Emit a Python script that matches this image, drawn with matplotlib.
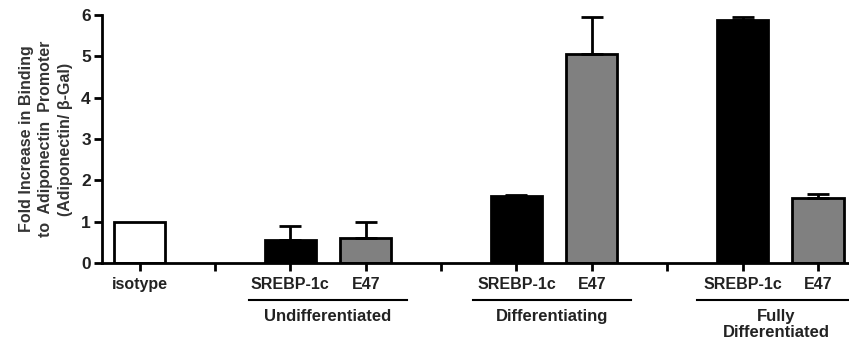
import matplotlib
matplotlib.use("Agg")
import matplotlib.pyplot as plt
from matplotlib.transforms import blended_transform_factory

plt.rcParams['font.family'] = ['Liberation Sans', 'DejaVu Sans']
plt.rcParams['font.weight'] = 'bold'

positions = [0, 1, 2, 3, 4, 5, 6, 7, 8, 9]
tick_labels = ["isotype", "", "SREBP-1c", "E47", "", "SREBP-1c", "E47", "", "SREBP-1c", "E47"]
bar_pos = [0, 2, 3, 5, 6, 8, 9]
values = [1.0, 0.56, 0.6, 1.62, 5.05, 5.88, 1.57]
errors = [0.0, 0.34, 0.4, 0.04, 0.9, 0.08, 0.1]
colors = ["white", "black", "#808080", "black", "#808080", "black", "#808080"]
groups = ["Undifferentiated", "Differentiating", "Fully\nDifferentiated"]
group_spans = [(1.45, 3.55), (4.42, 6.52), (7.39, 9.4)]
group_centers = [2.5, 5.47, 8.45]

fig = plt.figure(figsize=(8.49, 3.46), dpi=100)
ax = fig.add_axes([0.12, 0.239, 0.879, 0.718])

for p, v, e, c in zip(bar_pos, values, errors, colors):
    ax.bar(p, v, width=0.68, color=c, edgecolor="black", linewidth=2, zorder=2)
    if e > 0:
        ax.errorbar(p, v, yerr=[[0], [e]], fmt="none", ecolor="black",
                    elinewidth=2, capsize=8, capthick=2, zorder=3)

ax.set_xlim(-0.5, 9.4)
ax.set_ylim(0, 6)
ax.set_yticks([0, 1, 2, 3, 4, 5, 6])
ax.set_xticks(positions)
ax.set_xticklabels(tick_labels, fontsize=11.5, fontweight="bold", color="#222222")
ax.tick_params(axis="y", labelsize=12.5, width=2, length=6, direction="out", pad=2)
ax.tick_params(axis="x", width=2, length=6, direction="out", pad=4)
for lab in ax.get_yticklabels():
    lab.set_fontweight("bold")
    lab.set_color("#222222")

for s in ["top", "right"]:
    ax.spines[s].set_visible(False)
for s in ["left", "bottom"]:
    ax.spines[s].set_linewidth(2)

ax.set_ylabel("Fold Increase in Binding\nto  Adiponectin  Promoter\n(Adiponectin/ \u03b2-Gal)",
              fontsize=11.5, fontweight="bold", color="#333333", labelpad=6, linespacing=1.35)

trans = blended_transform_factory(ax.transData, ax.transAxes)
for (x0, x1), cx, g in zip(group_spans, group_centers, groups):
    ax.plot([x0, x1], [-0.148, -0.148], color="black", lw=1.5, transform=trans, clip_on=False)
    ax.text(cx, -0.185, g, transform=trans, ha="center", va="top", fontsize=12,
            fontweight="bold", color="#222222", linespacing=1.05)

fig.savefig("out.png", dpi=100)
